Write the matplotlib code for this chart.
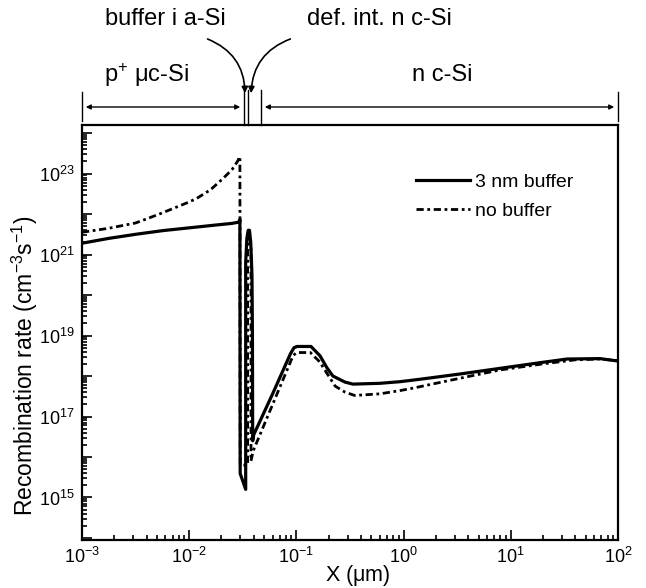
import numpy as np
import matplotlib
matplotlib.use("Agg")
import matplotlib.pyplot as plt
from matplotlib.ticker import FixedLocator, FuncFormatter, LogLocator, NullFormatter
from matplotlib.patches import FancyArrowPatch

plt.rcParams['font.family'] = ['Liberation Sans', 'DejaVu Sans']
plt.rcParams['mathtext.fontset'] = 'custom'
plt.rcParams['mathtext.rm'] = 'Liberation Sans'
plt.rcParams['mathtext.it'] = 'Liberation Sans:italic'
plt.rcParams['mathtext.bf'] = 'Liberation Sans:bold'

# ---- data (x in micrometres, recombination rate as log10 exponent) ----
buf_x = [0.001, 0.00178, 0.00316, 0.00562, 0.01, 0.0178, 0.0251, 0.0288, 0.0295, 0.02972,
         0.02990, 0.03000, 0.03365, 0.03365, 0.0345, 0.0355, 0.0365, 0.0375, 0.0385, 0.0389, 0.0391,
         0.0400, 0.060, 0.088, 0.095, 0.1013, 0.1368, 0.166, 0.193, 0.219, 0.284, 0.337,
         0.6, 0.925, 1.42, 3.36, 7.94, 18.8, 33.4, 67.9, 100.0]
buf_exp = [21.28, 21.40, 21.50, 21.59, 21.66, 21.73, 21.77, 21.80, 21.83, 21.87,
           15.60, 15.58, 15.20, 20.80, 21.40, 21.60, 21.60, 21.30, 20.50, 19.00, 16.40,
           16.55, 17.56, 18.55, 18.70, 18.73, 18.73, 18.50, 18.20, 18.00, 17.85, 17.80,
           17.82, 17.86, 17.92, 18.05, 18.19, 18.33, 18.42, 18.43, 18.37]

nob_x = [0.001, 0.00178, 0.00316, 0.004, 0.00562, 0.01, 0.0118, 0.0158, 0.0207, 0.0251, 0.0282, 0.02972,
         0.02990, 0.0351, 0.0351, 0.0364, 0.0377, 0.0377, 0.0395, 0.093, 0.100, 0.135, 0.165, 0.20,
         0.23, 0.285, 0.35, 0.6, 0.925, 1.22, 3.88, 7.94, 20.0, 40.0, 67.9, 100.0]
nob_exp = [21.55, 21.65, 21.78, 21.88, 22.03, 22.30, 22.39, 22.60, 22.88, 23.10, 23.30, 23.42,
           15.80, 15.80, 21.20, 21.40, 21.20, 15.90, 16.15, 18.50, 18.58, 18.58, 18.35, 18.00,
           17.75, 17.60, 17.52, 17.56, 17.64, 17.70, 17.98, 18.15, 18.30, 18.40, 18.42, 18.38]

series_labels = ["3 nm buffer", "no buffer"]
x_tick_exps = [-3, -2, -1, 0, 1, 2]
y_tick_exps = list(range(14, 25))
y_label_exps = [15, 17, 19, 21, 23]

W, H = 646, 588
fig = plt.figure(figsize=(W / 100, H / 100), dpi=100)
ax = fig.add_axes([82 / W, 1 - 540 / H, (618 - 82) / W, (540 - 125) / H])

ax.plot(buf_x, 10 ** np.array(buf_exp), color='black', lw=2.3, solid_joinstyle='round',
        label=series_labels[0], zorder=3)
ax.plot(nob_x, 10 ** np.array(nob_exp), color='black', lw=2.0,
        linestyle=(0, (2.6, 1.3, 1.0, 1.3)), label=series_labels[1], zorder=2)

ax.set_xscale('log')
ax.set_yscale('log')
ax.set_xlim(1e-3, 1e2)
ax.set_ylim(10 ** 13.95, 10 ** 24.2)

ax.xaxis.set_major_locator(FixedLocator([10.0 ** e for e in x_tick_exps]))
ax.xaxis.set_major_formatter(FuncFormatter(
    lambda v, p: r'$\mathregular{10^{%d}}$' % int(round(np.log10(v)))))
ax.xaxis.set_minor_locator(LogLocator(base=10, subs=np.arange(2, 10), numticks=50))
ax.xaxis.set_minor_formatter(NullFormatter())

ax.yaxis.set_major_locator(FixedLocator([10.0 ** e for e in y_tick_exps]))
def yfmt(v, p):
    e = int(round(np.log10(v)))
    return r'$\mathregular{10^{%d}}$' % e if e in y_label_exps else ''
ax.yaxis.set_major_formatter(FuncFormatter(yfmt))
ax.yaxis.set_minor_locator(LogLocator(base=10, subs=np.arange(2, 10), numticks=50))
ax.yaxis.set_minor_formatter(NullFormatter())

ax.tick_params(which='both', direction='in', top=False, right=False, width=1.2)
ax.tick_params(which='major', length=7, labelsize=13, pad=5)
ax.tick_params(which='minor', length=3.5)
for s in ax.spines.values():
    s.set_linewidth(1.6)

ax.set_xlabel(r'X ($\mathregular{\mu}$m)', fontsize=15.5)
ax.xaxis.set_label_coords(0.515, -0.056)
ax.set_ylabel(r'Recombination rate (cm$^{\mathregular{-3}}$s$^{\mathregular{-1}}$)', fontsize=16.5)
ax.yaxis.set_label_coords(-0.078, 0.42)

leg = ax.legend(loc='upper left', bbox_to_anchor=(0.59, 0.925), frameon=False, fontsize=14,
                handlelength=2.8, handletextpad=0.25, labelspacing=0.55)

# ---- layer annotations above the axes (figure pixel coords) ----
def P(x, y):
    return (x / W, 1 - y / H)

ft = fig.transFigure
fig.text(*P(165, 19), 'buffer i a-Si', fontsize=17, ha='center', va='center')
fig.text(*P(379, 19), 'def. int. n c-Si', fontsize=17, ha='center', va='center')
fig.text(*P(147, 75), r'p$^{\mathregular{+}}$ $\mathregular{\mu}$c-Si', fontsize=17, ha='center', va='center')
fig.text(*P(442, 75), 'n c-Si', fontsize=17, ha='center', va='center')

lk = dict(color='black', lw=1.0, transform=ft)
for xx in (82, 618):
    fig.add_artist(plt.Line2D([xx / W, xx / W], [1 - 92 / H, 1 - 121 / H], **lk))
for xx in (244, 248, 261):
    fig.add_artist(plt.Line2D([xx / W, xx / W], [1 - 90 / H, 1 - 125 / H], **lk))

for (x0, x1) in ((83, 243), (262, 617)):
    fig.add_artist(FancyArrowPatch(P(x0, 107), P(x1, 107), transform=ft,
                                   arrowstyle='<|-|>', mutation_scale=7, lw=1.0, color='black'))

fig.add_artist(FancyArrowPatch(P(205, 38), P(245, 96), transform=ft,
                               connectionstyle='arc3,rad=-0.35', arrowstyle='-|>',
                               mutation_scale=9, lw=1.2, color='black'))
fig.add_artist(FancyArrowPatch(P(293, 38), P(251, 96), transform=ft,
                               connectionstyle='arc3,rad=0.35', arrowstyle='-|>',
                               mutation_scale=9, lw=1.2, color='black'))

fig.savefig('out.png', dpi=100)
